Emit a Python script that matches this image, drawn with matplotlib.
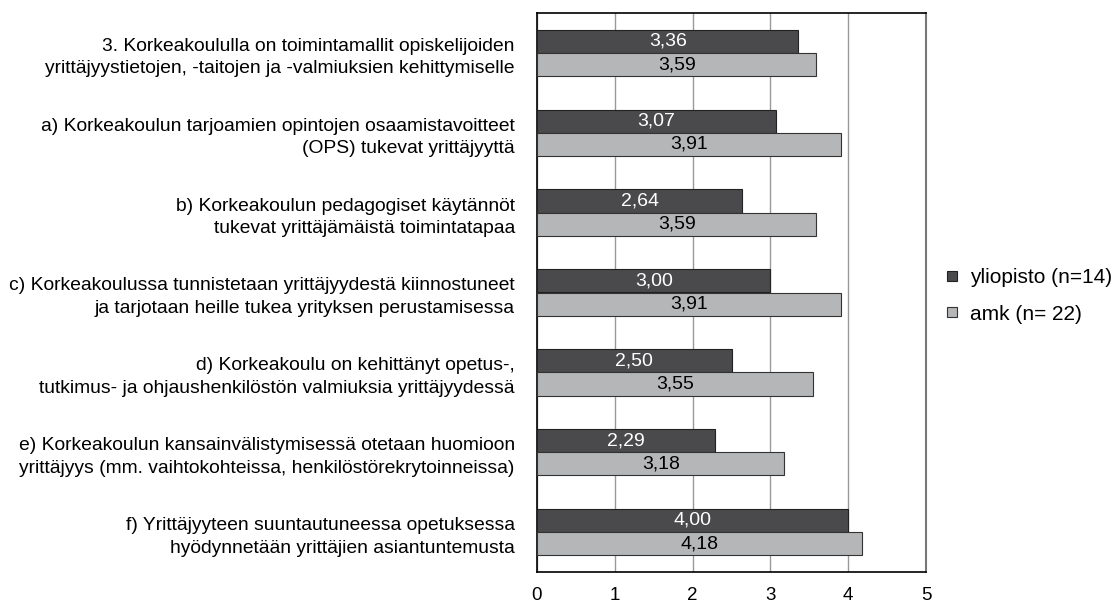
import matplotlib.pyplot as plt
import numpy as np
from matplotlib.lines import Line2D

# data
labels = [
    "3. Korkeakoululla on toimintamallit opiskelijoiden\nyrittäjyystietojen, -taitojen ja -valmiuksien kehittymiselle",
    "a) Korkeakoulun tarjoamien opintojen osaamistavoitteet\n(OPS) tukevat yrittäjyyttä",
    "b) Korkeakoulun pedagogiset käytännöt\ntukevat yrittäjämäistä toimintatapaa",
    "c) Korkeakoulussa tunnistetaan yrittäjyydestä kiinnostuneet\nja tarjotaan heille tukea yrityksen perustamisessa",
    "d) Korkeakoulu on kehittänyt opetus-,\ntutkimus- ja ohjaushenkilöstön valmiuksia yrittäjyydessä",
    "e) Korkeakoulun kansainvälistymisessä otetaan huomioon\nyrittäjyys (mm. vaihtokohteissa, henkilöstörekrytoinneissa)",
    "f) Yrittäjyyteen suuntautuneessa opetuksessa\nhyödynnetään yrittäjien asiantuntemusta",
]
yliopisto = [3.36, 3.07, 2.64, 3.00, 2.50, 2.29, 4.00]
amk = [3.59, 3.91, 3.59, 3.91, 3.55, 3.18, 4.18]
series_names = ["yliopisto (n=14)", "amk (n= 22)"]
xticks = [0, 1, 2, 3, 4, 5]

plt.rcParams['font.family'] = ['Liberation Sans', 'DejaVu Sans']

dark = '#4a4a4c'
light = '#b4b6b8'
h = 0.29

fig = plt.figure(figsize=(11.2, 6.03), dpi=100)
ax = fig.add_axes([537/1120, 1 - 572/603, (926-537)/1120, (572-13)/603])

y = np.arange(len(labels))
ax.barh(y - h/2, yliopisto, height=h, color=dark, edgecolor='#222222', linewidth=0.8, zorder=3)
ax.barh(y + h/2, amk, height=h, color=light, edgecolor='#333333', linewidth=0.8, zorder=3)

# value labels in the middle of each bar
for i in range(len(labels)):
    ax.text(yliopisto[i]/2, y[i] - h/2, ('%.2f' % yliopisto[i]).replace('.', ','),
            ha='center', va='center', color='white', fontsize=14, zorder=4)
    ax.text(amk[i]/2, y[i] + h/2, ('%.2f' % amk[i]).replace('.', ','),
            ha='center', va='center', color='black', fontsize=14, zorder=4)

ax.set_xlim(0, 5)
ax.set_ylim(len(labels) - 0.5, -0.5)
ax.set_xticks(xticks)
ax.set_xticklabels([str(t) for t in xticks], fontsize=13.5)
ax.set_yticks(y)
ax.set_yticklabels(labels, fontsize=13.9, linespacing=1.42)
ax.tick_params(axis='y', length=0, pad=16)
ax.tick_params(axis='x', length=0, pad=11)
ax.grid(axis='x', color='#999999', linewidth=1, zorder=0)
for s in ['left', 'bottom', 'top']:
    ax.spines[s].set_color('black')
    ax.spines[s].set_linewidth(1.2)
ax.spines['right'].set_color('#777777')
ax.spines['right'].set_linewidth(1.5)

# square legend markers
handles = [Line2D([], [], linestyle='none', marker='s', markersize=7.5,
                  markerfacecolor=dark, markeredgecolor='#222222', markeredgewidth=0.8),
           Line2D([], [], linestyle='none', marker='s', markersize=7.5,
                  markerfacecolor=light, markeredgecolor='#333333', markeredgewidth=0.8)]
fig.legend(handles, series_names, loc='center left', bbox_to_anchor=(945/1120, 1 - 296/603),
           frameon=False, fontsize=15, handlelength=0.7, handletextpad=0.5,
           labelspacing=0.82, borderpad=0, borderaxespad=0)

fig.savefig('out.png', dpi=100)
